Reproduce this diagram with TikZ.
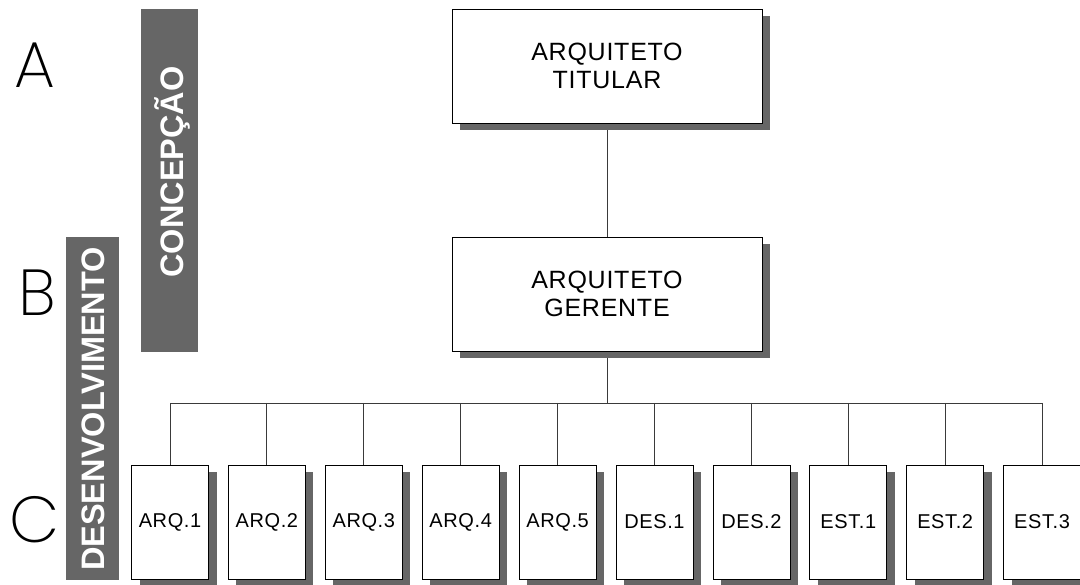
\documentclass[tikz,border=0pt]{standalone}
\usepackage{fontspec}
\usetikzlibrary{shadows}
\setmainfont{Liberation Sans}
% box labels: slightly tracked sans
\newfontfamily\boxfont{Liberation Sans}[LetterSpace=3]
% thin face for the level letters
\IfFontExistsTF{Poppins ExtraLight}
  {\newfontfamily\levelfont{Poppins ExtraLight}}
  {\newfontfamily\levelfont{Liberation Sans}}
\definecolor{shadowgray}{HTML}{666666}
\definecolor{bargray}{HTML}{666666}
\definecolor{linegray}{HTML}{3A3A3A}

\begin{document}
\begin{tikzpicture}[x=1pt,y=-1pt,
  boxshadow/.style={drop shadow={shadow xshift=8pt, shadow yshift=-7pt,
      fill=shadowgray, opacity=1}},
  bigbox/.style={boxshadow, draw=black, line width=0.8pt, fill=white,
      minimum width=310pt, minimum height=114pt, inner sep=0pt,
      align=center, font=\boxfont\fontsize{25}{28.5}\selectfont},
  smallbox/.style={boxshadow, draw=black, line width=0.8pt, fill=white,
      minimum width=77pt, minimum height=114pt, inner sep=0pt,
      font=\boxfont\fontsize{20}{22}\selectfont},
  conn/.style={draw=linegray, line width=0.9pt},
  levelletter/.style={inner sep=0pt, font=\levelfont\fontsize{65}{70}\selectfont},
  phasebar/.style={fill=bargray, draw=none},
  phasetext/.style={text=white, rotate=90, anchor=base, inner sep=0pt,
      font=\bfseries\fontsize{32.5}{36}\selectfont},
]
\useasboundingbox (0,0) rectangle (1080,585);

% level letters
\node[levelletter] (lvA) at (35,65) {A};
\node[levelletter] (lvB) at (37,293) {B};
\node[levelletter] (lvC) at (35,520) {C};

% phase bars
\fill[phasebar] (141,9) rectangle (198,352);
\node[phasetext] (concep) at (183,172) {CONCEPÇÃO};
\fill[phasebar] (66,237) rectangle (119,580);
\node[phasetext] (desenv) at (104,409) {DESENVOLVIMENTO};

% connectors
\coordinate (bus) at (607,403);
\coordinate (topbot) at (607,123);
\coordinate (midtop) at (607,237);
\coordinate (midbot) at (607,351);
\draw[conn] (topbot) -- (midtop);
\draw[conn] (midbot) -- (bus);
\coordinate (busL) at (170,403);
\coordinate (busR) at (1042,403);
\draw[conn] (busL) -- (busR);
\foreach \i in {0,...,9}{
  \coordinate (drop\i) at ({170+96.9*\i},403);
  \coordinate (dropend\i) at ({170+96.9*\i},465);
  \draw[conn] (drop\i) -- (dropend\i);
}

% main boxes
\node[bigbox] (titular) at (607,66) {ARQUITETO\\TITULAR};
\node[bigbox] (gerente) at (607,294) {ARQUITETO\\GERENTE};

% team boxes
\foreach \lab [count=\k from 0] in {ARQ.1,ARQ.2,ARQ.3,ARQ.4,ARQ.5,DES.1,DES.2,EST.1,EST.2,EST.3}{
  \node[smallbox] (team\k) at ({170+96.9*\k},522) {\lab};
}
\end{tikzpicture}
\end{document}
